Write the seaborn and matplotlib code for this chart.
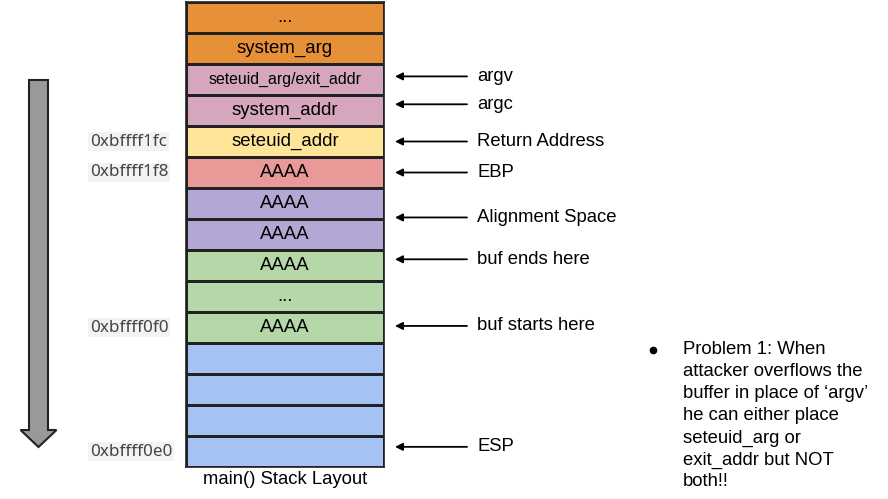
import numpy as np
import matplotlib
matplotlib.use("Agg")
import matplotlib.pyplot as plt
import matplotlib.patches as mpatches
from matplotlib.colors import ListedColormap
import seaborn as sns

# stack slots, top (high address) to bottom (low address)
slot_labels = ["...", "system_arg", "seteuid_arg/exit_addr", "system_addr",
               "seteuid_addr", "AAAA", "AAAA", "AAAA", "AAAA", "...", "AAAA",
               "", "", "", ""]
slot_groups = [0, 0, 1, 1, 2, 3, 4, 4, 5, 5, 5, 6, 6, 6, 6]
group_colors = ["#e69138", "#d5a6bd", "#ffe599", "#ea9999",
                "#b4a7d6", "#b6d7a8", "#a4c2f4"]

# pointers on the right (position in slot units from the top)
pointer_names = ["argv", "argc", "Return Address", "EBP", "Alignment Space",
                 "buf ends here", "buf starts here", "ESP"]
pointer_slots = [2.4, 3.3, 4.5, 5.5, 6.95, 8.3, 10.45, 14.35]

# addresses on the left
address_names = ["0xbffff1fc", "0xbffff1f8", "0xbffff0f0", "0xbffff0e0"]
address_slots = [4, 5, 10, 14]

note_lines = ["Problem 1: When", "attacker overflows the",
              "buffer in place of \u2018argv\u2019", "he can either place",
              "seteuid_arg or", "exit_addr but NOT", "both!!"]

sns.set_style("white")
plt.rcParams["font.family"] = ["Liberation Sans", "DejaVu Sans"]
plt.rcParams["text.color"] = "black"

W, H = 888, 499
fig = plt.figure(figsize=(W / 100, H / 100), dpi=100)

# stack box geometry in pixels
bx0, bx1 = 186, 384
by0, by1 = 2, 467
n = len(slot_labels)
row_h = (by1 - by0) / n

ax = fig.add_axes([bx0 / W, 1 - by1 / H, (bx1 - bx0) / W, (by1 - by0) / H])
grid = np.array(slot_groups).reshape(-1, 1)
annot = np.array(slot_labels, dtype=object).reshape(-1, 1)
sns.heatmap(grid, ax=ax, cmap=ListedColormap(group_colors), vmin=-0.5,
            vmax=len(group_colors) - 0.5, cbar=False, annot=annot, fmt="",
            linewidths=1.0, linecolor="#222222",
            annot_kws={"fontsize": 13.4, "color": "black"},
            xticklabels=False, yticklabels=False)
for t in ax.texts:
    t.set_color("black")
    if t.get_text() == "seteuid_arg/exit_addr":
        t.set_fontsize(11.4)
for s in ax.spines.values():
    s.set_visible(True)
    s.set_linewidth(1.2)
    s.set_color("#222222")

# overlay in pixel coordinates
ov = fig.add_axes([0, 0, 1, 1])
ov.set_xlim(0, W)
ov.set_ylim(H, 0)
ov.axis("off")
ov.patch.set_alpha(0)

def slot_y(s):
    return by0 + row_h * s

for name, s in zip(pointer_names, pointer_slots):
    y = slot_y(s)
    ov.annotate("", xy=(395, y), xytext=(467, y),
                arrowprops=dict(arrowstyle="-|>", lw=1.3, color="black",
                                mutation_scale=11, shrinkA=0, shrinkB=0))
    ov.text(477, y, name, fontsize=13.3, va="center", ha="left")

for name, s in zip(address_names, address_slots):
    ov.text(90, slot_y(s + 0.5), name, fontsize=12.3, va="center", ha="left",
            family="Noto Sans", color="#444444",
            bbox=dict(boxstyle="square,pad=0.1", fc="#f3f3f3", ec="none"))

ov.text((bx0 + bx1) / 2, 480, "main() Stack Layout", fontsize=13.3,
        ha="center", va="center")

# direction of stack growth
ov.add_patch(mpatches.FancyArrow(38.5, 80, 0, 367, width=19, head_width=36,
                                 head_length=17, length_includes_head=True,
                                 fc="#999999", ec="#222222", lw=1.5))

ov.plot([653], [350], marker="o", ms=4.5, color="black")
for i, line in enumerate(note_lines):
    ov.text(683, 350 + 22 * i, line, fontsize=13.3, va="center", ha="left")

fig.savefig("out.png", dpi=100)
